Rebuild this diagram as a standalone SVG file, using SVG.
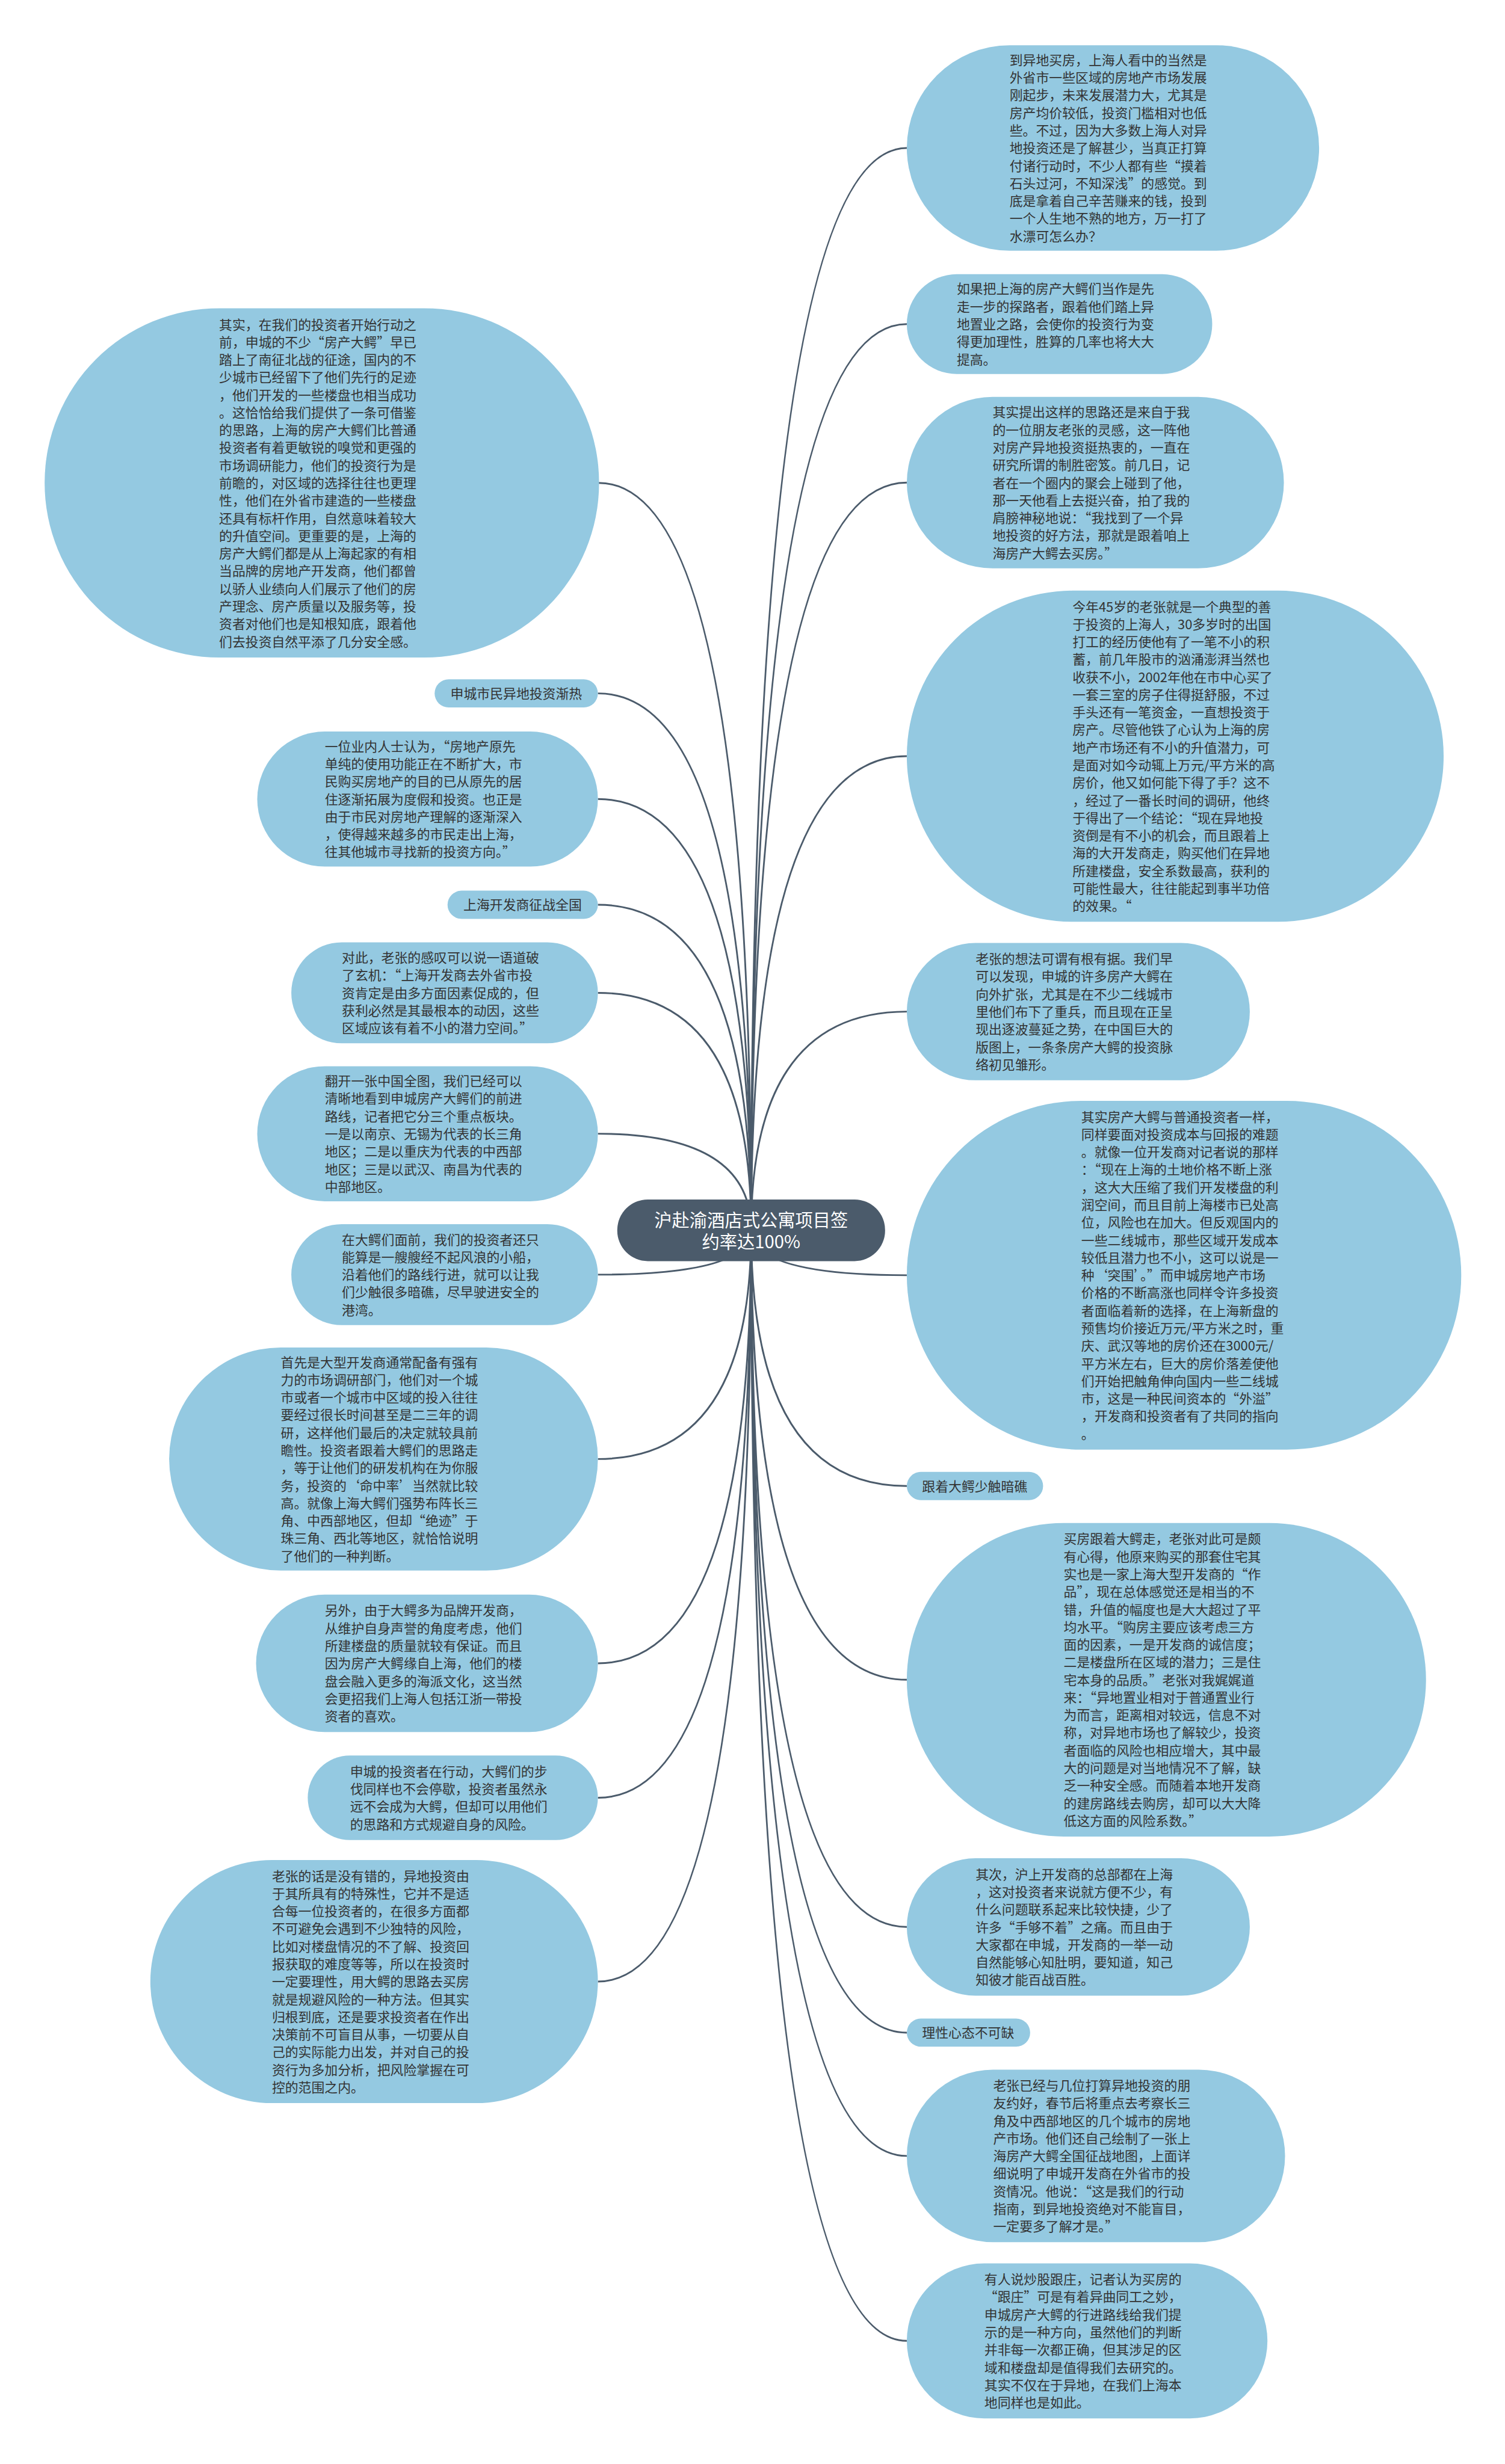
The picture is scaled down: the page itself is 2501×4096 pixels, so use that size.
<svg xmlns="http://www.w3.org/2000/svg" width="2501" height="4096" viewBox="0 0 2501 4096">
<style>
.node{fill:#94c9e1}
.label{fill:#94c9e1}
.t{font-family:"Noto Sans CJK SC","Noto Sans",sans-serif;font-size:22.4px;fill:#333333}
.ct{font-family:"Noto Sans CJK SC","Noto Sans",sans-serif;font-size:30px;fill:#ffffff;text-anchor:middle}
.conn{fill:none;stroke:#4b5b6b;stroke-width:3}
</style>
<rect x="0" y="0" width="2501" height="4096" fill="#ffffff"/>
<g transform="scale(0.976)">
<g id="connectors">
<path class="conn" d="M1279,2095 Q1279,822.5 1019,822.5"/>
<path class="conn" d="M1279,2095 Q1279,1181 1018,1181"/>
<path class="conn" d="M1279,2095 Q1279,1361 1018,1361"/>
<path class="conn" d="M1279,2095 Q1279,1541 1018,1541"/>
<path class="conn" d="M1279,2095 Q1279,1691 1018,1691"/>
<path class="conn" d="M1279,2095 Q1279,1931 1018,1931"/>
<path class="conn" d="M1279,2095 Q1279,2171 1018,2171"/>
<path class="conn" d="M1279,2095 Q1279,2485 1018,2485"/>
<path class="conn" d="M1279,2095 Q1279,2833 1018,2833"/>
<path class="conn" d="M1279,2095 Q1279,3062 1018,3062"/>
<path class="conn" d="M1279,2095 Q1279,3375 1018,3375"/>
<path class="conn" d="M1279,2095 Q1279,252 1544,252"/>
<path class="conn" d="M1279,2095 Q1279,552 1544,552"/>
<path class="conn" d="M1279,2095 Q1279,822 1544,822"/>
<path class="conn" d="M1279,2095 Q1279,1288 1544,1288"/>
<path class="conn" d="M1279,2095 Q1279,1723 1544,1723"/>
<path class="conn" d="M1279,2095 Q1279,2172 1544,2172"/>
<path class="conn" d="M1279,2095 Q1279,2531 1544,2531"/>
<path class="conn" d="M1279,2095 Q1279,2861 1544,2861"/>
<path class="conn" d="M1279,2095 Q1279,3282 1544,3282"/>
<path class="conn" d="M1279,2095 Q1279,3462 1544,3462"/>
<path class="conn" d="M1279,2095 Q1279,3672 1544,3672"/>
<path class="conn" d="M1279,2095 Q1279,3987 1544,3987"/>
</g>

<g id="center">
<rect x="1051" y="2043" width="456" height="105" rx="52" ry="52" fill="#4b5b6b"/>
<text class="ct"><tspan x="1279" y="2089">沪赴渝酒店式公寓项目签</tspan><tspan x="1279" y="2126">约率达100%</tspan></text>
</g>

<g id="L1">
<rect class="node" x="76" y="525" width="944" height="595" rx="297.5" ry="297.5"/>
<text class="t">
<tspan x="373" y="561">其实，在我们的投资者开始行动之</tspan>
<tspan x="373" y="591">前，申城的不少“房产大鳄”早已</tspan>
<tspan x="373" y="621">踏上了南征北战的征途，国内的不</tspan>
<tspan x="373" y="651">少城市已经留下了他们先行的足迹</tspan>
<tspan x="373" y="681">，他们开发的一些楼盘也相当成功</tspan>
<tspan x="373" y="711">。这恰恰给我们提供了一条可借鉴</tspan>
<tspan x="373" y="741">的思路，上海的房产大鳄们比普通</tspan>
<tspan x="373" y="771">投资者有着更敏锐的嗅觉和更强的</tspan>
<tspan x="373" y="801">市场调研能力，他们的投资行为是</tspan>
<tspan x="373" y="831">前瞻的，对区域的选择往往也更理</tspan>
<tspan x="373" y="861">性，他们在外省市建造的一些楼盘</tspan>
<tspan x="373" y="891">还具有标杆作用，自然意味着较大</tspan>
<tspan x="373" y="921">的升值空间。更重要的是，上海的</tspan>
<tspan x="373" y="951">房产大鳄们都是从上海起家的有相</tspan>
<tspan x="373" y="981">当品牌的房地产开发商，他们都曾</tspan>
<tspan x="373" y="1011">以骄人业绩向人们展示了他们的房</tspan>
<tspan x="373" y="1041">产理念、房产质量以及服务等，投</tspan>
<tspan x="373" y="1071">资者对他们也是知根知底，跟着他</tspan>
<tspan x="373" y="1101">们去投资自然平添了几分安全感。</tspan>
</text>
</g>

<g id="L2">
<rect class="label" x="740" y="1157" width="278" height="48" rx="24" ry="24"/>
<text class="t"><tspan x="767" y="1189.5">申城市民异地投资渐热</tspan></text>
</g>

<g id="L3">
<rect class="node" x="438" y="1246" width="580" height="230" rx="115" ry="115"/>
<text class="t">
<tspan x="553" y="1279.5">一位业内人士认为，“房地产原先</tspan>
<tspan x="553" y="1309.5">单纯的使用功能正在不断扩大，市</tspan>
<tspan x="553" y="1339.5">民购买房地产的目的已从原先的居</tspan>
<tspan x="553" y="1369.5">住逐渐拓展为度假和投资。也正是</tspan>
<tspan x="553" y="1399.5">由于市民对房地产理解的逐渐深入</tspan>
<tspan x="553" y="1429.5">，使得越来越多的市民走出上海，</tspan>
<tspan x="553" y="1459.5">往其他城市寻找新的投资方向。”</tspan>
</text>
</g>

<g id="L4">
<rect class="label" x="762" y="1517" width="256" height="48" rx="24" ry="24"/>
<text class="t"><tspan x="789" y="1549.5">上海开发商征战全国</tspan></text>
</g>

<g id="L5">
<rect class="node" x="496" y="1605" width="522" height="172" rx="86" ry="86"/>
<text class="t">
<tspan x="582" y="1639.5">对此，老张的感叹可以说一语道破</tspan>
<tspan x="582" y="1669.5">了玄机：“上海开发商去外省市投</tspan>
<tspan x="582" y="1699.5">资肯定是由多方面因素促成的，但</tspan>
<tspan x="582" y="1729.5">获利必然是其最根本的动因，这些</tspan>
<tspan x="582" y="1759.5">区域应该有着不小的潜力空间。”</tspan>
</text>
</g>

<g id="L6">
<rect class="node" x="438" y="1816" width="580" height="230" rx="115" ry="115"/>
<text class="t">
<tspan x="553" y="1849.5">翻开一张中国全图，我们已经可以</tspan>
<tspan x="553" y="1879.5">清晰地看到申城房产大鳄们的前进</tspan>
<tspan x="553" y="1909.5">路线，记者把它分三个重点板块。</tspan>
<tspan x="553" y="1939.5">一是以南京、无锡为代表的长三角</tspan>
<tspan x="553" y="1969.5">地区；二是以重庆为代表的中西部</tspan>
<tspan x="553" y="1999.5">地区；三是以武汉、南昌为代表的</tspan>
<tspan x="553" y="2029.5">中部地区。</tspan>
</text>
</g>

<g id="L7">
<rect class="node" x="496" y="2085" width="522" height="172" rx="86" ry="86"/>
<text class="t">
<tspan x="582" y="2119.5">在大鳄们面前，我们的投资者还只</tspan>
<tspan x="582" y="2149.5">能算是一艘艘经不起风浪的小船，</tspan>
<tspan x="582" y="2179.5">沿着他们的路线行进，就可以让我</tspan>
<tspan x="582" y="2209.5">们少触很多暗礁，尽早驶进安全的</tspan>
<tspan x="582" y="2239.5">港湾。</tspan>
</text>
</g>

<g id="L8">
<rect class="node" x="288" y="2295" width="730" height="380" rx="190" ry="190"/>
<text class="t">
<tspan x="478" y="2328.5">首先是大型开发商通常配备有强有</tspan>
<tspan x="478" y="2358.5">力的市场调研部门，他们对一个城</tspan>
<tspan x="478" y="2388.5">市或者一个城市中区域的投入往往</tspan>
<tspan x="478" y="2418.5">要经过很长时间甚至是二三年的调</tspan>
<tspan x="478" y="2448.5">研，这样他们最后的决定就较具前</tspan>
<tspan x="478" y="2478.5">瞻性。投资者跟着大鳄们的思路走</tspan>
<tspan x="478" y="2508.5">，等于让他们的研发机构在为你服</tspan>
<tspan x="478" y="2538.5">务，投资的‘命中率’当然就比较</tspan>
<tspan x="478" y="2568.5">高。就像上海大鳄们强势布阵长三</tspan>
<tspan x="478" y="2598.5">角、中西部地区，但却“绝迹”于</tspan>
<tspan x="478" y="2628.5">珠三角、西北等地区，就恰恰说明</tspan>
<tspan x="478" y="2658.5">了他们的一种判断。</tspan>
</text>
</g>

<g id="L9">
<rect class="node" x="436" y="2716" width="582" height="234" rx="117" ry="117"/>
<text class="t">
<tspan x="553" y="2751.5">另外，由于大鳄多为品牌开发商，</tspan>
<tspan x="553" y="2781.5">从维护自身声誉的角度考虑，他们</tspan>
<tspan x="553" y="2811.5">所建楼盘的质量就较有保证。而且</tspan>
<tspan x="553" y="2841.5">因为房产大鳄缘自上海，他们的楼</tspan>
<tspan x="553" y="2871.5">盘会融入更多的海派文化，这当然</tspan>
<tspan x="553" y="2901.5">会更招我们上海人包括江浙一带投</tspan>
<tspan x="553" y="2931.5">资者的喜欢。</tspan>
</text>
</g>

<g id="L10">
<rect class="node" x="524" y="2990" width="494" height="144" rx="72" ry="72"/>
<text class="t">
<tspan x="596" y="3025.5">申城的投资者在行动，大鳄们的步</tspan>
<tspan x="596" y="3055.5">伐同样也不会停歇，投资者虽然永</tspan>
<tspan x="596" y="3085.5">远不会成为大鳄，但却可以用他们</tspan>
<tspan x="596" y="3115.5">的思路和方式规避自身的风险。</tspan>
</text>
</g>

<g id="L11">
<rect class="node" x="256" y="3168" width="762" height="414" rx="207" ry="207"/>
<text class="t">
<tspan x="463" y="3203.5">老张的话是没有错的，异地投资由</tspan>
<tspan x="463" y="3233.5">于其所具有的特殊性，它并不是适</tspan>
<tspan x="463" y="3263.5">合每一位投资者的，在很多方面都</tspan>
<tspan x="463" y="3293.5">不可避免会遇到不少独特的风险，</tspan>
<tspan x="463" y="3323.5">比如对楼盘情况的不了解、投资回</tspan>
<tspan x="463" y="3353.5">报获取的难度等等，所以在投资时</tspan>
<tspan x="463" y="3383.5">一定要理性，用大鳄的思路去买房</tspan>
<tspan x="463" y="3413.5">就是规避风险的一种方法。但其实</tspan>
<tspan x="463" y="3443.5">归根到底，还是要求投资者在作出</tspan>
<tspan x="463" y="3473.5">决策前不可盲目从事，一切要从自</tspan>
<tspan x="463" y="3503.5">己的实际能力出发，并对自己的投</tspan>
<tspan x="463" y="3533.5">资行为多加分析，把风险掌握在可</tspan>
<tspan x="463" y="3563.5">控的范围之内。</tspan>
</text>
</g>

<g id="R1">
<rect class="node" x="1544" y="77" width="702" height="350" rx="175" ry="175"/>
<text class="t">
<tspan x="1719" y="110.5">到异地买房，上海人看中的当然是</tspan>
<tspan x="1719" y="140.5">外省市一些区域的房地产市场发展</tspan>
<tspan x="1719" y="170.5">刚起步，未来发展潜力大，尤其是</tspan>
<tspan x="1719" y="200.5">房产均价较低，投资门槛相对也低</tspan>
<tspan x="1719" y="230.5">些。不过，因为大多数上海人对异</tspan>
<tspan x="1719" y="260.5">地投资还是了解甚少，当真正打算</tspan>
<tspan x="1719" y="290.5">付诸行动时，不少人都有些“摸着</tspan>
<tspan x="1719" y="320.5">石头过河，不知深浅”的感觉。到</tspan>
<tspan x="1719" y="350.5">底是拿着自己辛苦赚来的钱，投到</tspan>
<tspan x="1719" y="380.5">一个人生地不熟的地方，万一打了</tspan>
<tspan x="1719" y="410.5">水漂可怎么办？</tspan>
</text>
</g>

<g id="R2">
<rect class="node" x="1544" y="467" width="520" height="170" rx="85" ry="85"/>
<text class="t">
<tspan x="1629" y="500.5">如果把上海的房产大鳄们当作是先</tspan>
<tspan x="1629" y="530.5">走一步的探路者，跟着他们踏上异</tspan>
<tspan x="1629" y="560.5">地置业之路，会使你的投资行为变</tspan>
<tspan x="1629" y="590.5">得更加理性，胜算的几率也将大大</tspan>
<tspan x="1629" y="620.5">提高。</tspan>
</text>
</g>

<g id="R3">
<rect class="node" x="1544" y="676" width="642" height="292" rx="146" ry="146"/>
<text class="t">
<tspan x="1690" y="710.5">其实提出这样的思路还是来自于我</tspan>
<tspan x="1690" y="740.5">的一位朋友老张的灵感，这一阵他</tspan>
<tspan x="1690" y="770.5">对房产异地投资挺热衷的，一直在</tspan>
<tspan x="1690" y="800.5">研究所谓的制胜密笈。前几日，记</tspan>
<tspan x="1690" y="830.5">者在一个圈内的聚会上碰到了他，</tspan>
<tspan x="1690" y="860.5">那一天他看上去挺兴奋，拍了我的</tspan>
<tspan x="1690" y="890.5">肩膀神秘地说：“我找到了一个异</tspan>
<tspan x="1690" y="920.5">地投资的好方法，那就是跟着咱上</tspan>
<tspan x="1690" y="950.5">海房产大鳄去买房。”</tspan>
</text>
</g>

<g id="R4">
<rect class="node" x="1544" y="1006" width="914" height="564" rx="282" ry="282"/>
<text class="t">
<tspan x="1826" y="1041.5">今年45岁的老张就是一个典型的善</tspan>
<tspan x="1826" y="1071.5">于投资的上海人，30多岁时的出国</tspan>
<tspan x="1826" y="1101.5">打工的经历使他有了一笔不小的积</tspan>
<tspan x="1826" y="1131.5">蓄，前几年股市的汹涌澎湃当然也</tspan>
<tspan x="1826" y="1161.5">收获不小，2002年他在市中心买了</tspan>
<tspan x="1826" y="1191.5">一套三室的房子住得挺舒服，不过</tspan>
<tspan x="1826" y="1221.5">手头还有一笔资金，一直想投资于</tspan>
<tspan x="1826" y="1251.5">房产。尽管他铁了心认为上海的房</tspan>
<tspan x="1826" y="1281.5">地产市场还有不小的升值潜力，可</tspan>
<tspan x="1826" y="1311.5">是面对如今动辄上万元/平方米的高</tspan>
<tspan x="1826" y="1341.5">房价，他又如何能下得了手？这不</tspan>
<tspan x="1826" y="1371.5">，经过了一番长时间的调研，他终</tspan>
<tspan x="1826" y="1401.5">于得出了一个结论：“现在异地投</tspan>
<tspan x="1826" y="1431.5">资倒是有不小的机会，而且跟着上</tspan>
<tspan x="1826" y="1461.5">海的大开发商走，购买他们在异地</tspan>
<tspan x="1826" y="1491.5">所建楼盘，安全系数最高，获利的</tspan>
<tspan x="1826" y="1521.5">可能性最大，往往能起到事半功倍</tspan>
<tspan x="1826" y="1551.5">的效果。“</tspan>
</text>
</g>

<g id="R5">
<rect class="node" x="1544" y="1606" width="584" height="234" rx="117" ry="117"/>
<text class="t">
<tspan x="1661" y="1641.5">老张的想法可谓有根有据。我们早</tspan>
<tspan x="1661" y="1671.5">可以发现，申城的许多房产大鳄在</tspan>
<tspan x="1661" y="1701.5">向外扩张，尤其是在不少二线城市</tspan>
<tspan x="1661" y="1731.5">里他们布下了重兵，而且现在正呈</tspan>
<tspan x="1661" y="1761.5">现出逐波蔓延之势，在中国巨大的</tspan>
<tspan x="1661" y="1791.5">版图上，一条条房产大鳄的投资脉</tspan>
<tspan x="1661" y="1821.5">络初见雏形。</tspan>
</text>
</g>

<g id="R6">
<rect class="node" x="1544" y="1875" width="944" height="594" rx="297" ry="297"/>
<text class="t">
<tspan x="1841" y="1910.5">其实房产大鳄与普通投资者一样，</tspan>
<tspan x="1841" y="1940.5">同样要面对投资成本与回报的难题</tspan>
<tspan x="1841" y="1970.5">。就像一位开发商对记者说的那样</tspan>
<tspan x="1841" y="2000.5">：“现在上海的土地价格不断上涨</tspan>
<tspan x="1841" y="2030.5">，这大大压缩了我们开发楼盘的利</tspan>
<tspan x="1841" y="2060.5">润空间，而且目前上海楼市已处高</tspan>
<tspan x="1841" y="2090.5">位，风险也在加大。但反观国内的</tspan>
<tspan x="1841" y="2120.5">一些二线城市，那些区域开发成本</tspan>
<tspan x="1841" y="2150.5">较低且潜力也不小，这可以说是一</tspan>
<tspan x="1841" y="2180.5">种‘突围’。”而申城房地产市场</tspan>
<tspan x="1841" y="2210.5">价格的不断高涨也同样令许多投资</tspan>
<tspan x="1841" y="2240.5">者面临着新的选择，在上海新盘的</tspan>
<tspan x="1841" y="2270.5">预售均价接近万元/平方米之时，重</tspan>
<tspan x="1841" y="2300.5">庆、武汉等地的房价还在3000元/</tspan>
<tspan x="1841" y="2330.5">平方米左右，巨大的房价落差使他</tspan>
<tspan x="1841" y="2360.5">们开始把触角伸向国内一些二线城</tspan>
<tspan x="1841" y="2390.5">市，这是一种民间资本的“外溢”</tspan>
<tspan x="1841" y="2420.5">，开发商和投资者有了共同的指向</tspan>
<tspan x="1841" y="2450.5">。</tspan>
</text>
</g>

<g id="R7">
<rect class="label" x="1544" y="2507" width="232" height="48" rx="24" ry="24"/>
<text class="t"><tspan x="1570" y="2539.5">跟着大鳄少触暗礁</tspan></text>
</g>

<g id="R8">
<rect class="node" x="1544" y="2594" width="884" height="534" rx="267" ry="267"/>
<text class="t">
<tspan x="1811" y="2629.5">买房跟着大鳄走，老张对此可是颇</tspan>
<tspan x="1811" y="2659.5">有心得，他原来购买的那套住宅其</tspan>
<tspan x="1811" y="2689.5">实也是一家上海大型开发商的“作</tspan>
<tspan x="1811" y="2719.5">品”，现在总体感觉还是相当的不</tspan>
<tspan x="1811" y="2749.5">错，升值的幅度也是大大超过了平</tspan>
<tspan x="1811" y="2779.5">均水平。“购房主要应该考虑三方</tspan>
<tspan x="1811" y="2809.5">面的因素，一是开发商的诚信度；</tspan>
<tspan x="1811" y="2839.5">二是楼盘所在区域的潜力；三是住</tspan>
<tspan x="1811" y="2869.5">宅本身的品质。”老张对我娓娓道</tspan>
<tspan x="1811" y="2899.5">来：“异地置业相对于普通置业行</tspan>
<tspan x="1811" y="2929.5">为而言，距离相对较远，信息不对</tspan>
<tspan x="1811" y="2959.5">称，对异地市场也了解较少，投资</tspan>
<tspan x="1811" y="2989.5">者面临的风险也相应增大，其中最</tspan>
<tspan x="1811" y="3019.5">大的问题是对当地情况不了解，缺</tspan>
<tspan x="1811" y="3049.5">乏一种安全感。而随着本地开发商</tspan>
<tspan x="1811" y="3079.5">的建房路线去购房，却可以大大降</tspan>
<tspan x="1811" y="3109.5">低这方面的风险系数。”</tspan>
</text>
</g>

<g id="R9">
<rect class="node" x="1544" y="3165" width="584" height="234" rx="117" ry="117"/>
<text class="t">
<tspan x="1661" y="3200.5">其次，沪上开发商的总部都在上海</tspan>
<tspan x="1661" y="3230.5">，这对投资者来说就方便不少，有</tspan>
<tspan x="1661" y="3260.5">什么问题联系起来比较快捷，少了</tspan>
<tspan x="1661" y="3290.5">许多“手够不着”之痛。而且由于</tspan>
<tspan x="1661" y="3320.5">大家都在申城，开发商的一举一动</tspan>
<tspan x="1661" y="3350.5">自然能够心知肚明，要知道，知己</tspan>
<tspan x="1661" y="3380.5">知彼才能百战百胜。</tspan>
</text>
</g>

<g id="R10">
<rect class="label" x="1544" y="3438" width="210" height="48" rx="24" ry="24"/>
<text class="t"><tspan x="1570" y="3470.5">理性心态不可缺</tspan></text>
</g>

<g id="R11">
<rect class="node" x="1544" y="3525" width="644" height="294" rx="147" ry="147"/>
<text class="t">
<tspan x="1691" y="3560.5">老张已经与几位打算异地投资的朋</tspan>
<tspan x="1691" y="3590.5">友约好，春节后将重点去考察长三</tspan>
<tspan x="1691" y="3620.5">角及中西部地区的几个城市的房地</tspan>
<tspan x="1691" y="3650.5">产市场。他们还自己绘制了一张上</tspan>
<tspan x="1691" y="3680.5">海房产大鳄全国征战地图，上面详</tspan>
<tspan x="1691" y="3710.5">细说明了申城开发商在外省市的投</tspan>
<tspan x="1691" y="3740.5">资情况。他说：“这是我们的行动</tspan>
<tspan x="1691" y="3770.5">指南，到异地投资绝对不能盲目，</tspan>
<tspan x="1691" y="3800.5">一定要多了解才是。”</tspan>
</text>
</g>

<g id="R12">
<rect class="node" x="1544" y="3855" width="614" height="264" rx="132" ry="132"/>
<text class="t">
<tspan x="1676" y="3890.5">有人说炒股跟庄，记者认为买房的</tspan>
<tspan x="1676" y="3920.5">“跟庄”可是有着异曲同工之妙，</tspan>
<tspan x="1676" y="3950.5">申城房产大鳄的行进路线给我们提</tspan>
<tspan x="1676" y="3980.5">示的是一种方向，虽然他们的判断</tspan>
<tspan x="1676" y="4010.5">并非每一次都正确，但其涉足的区</tspan>
<tspan x="1676" y="4040.5">域和楼盘却是值得我们去研究的。</tspan>
<tspan x="1676" y="4070.5">其实不仅在于异地，在我们上海本</tspan>
<tspan x="1676" y="4100.5">地同样也是如此。</tspan>
</text>
</g>
</g>
</svg>
